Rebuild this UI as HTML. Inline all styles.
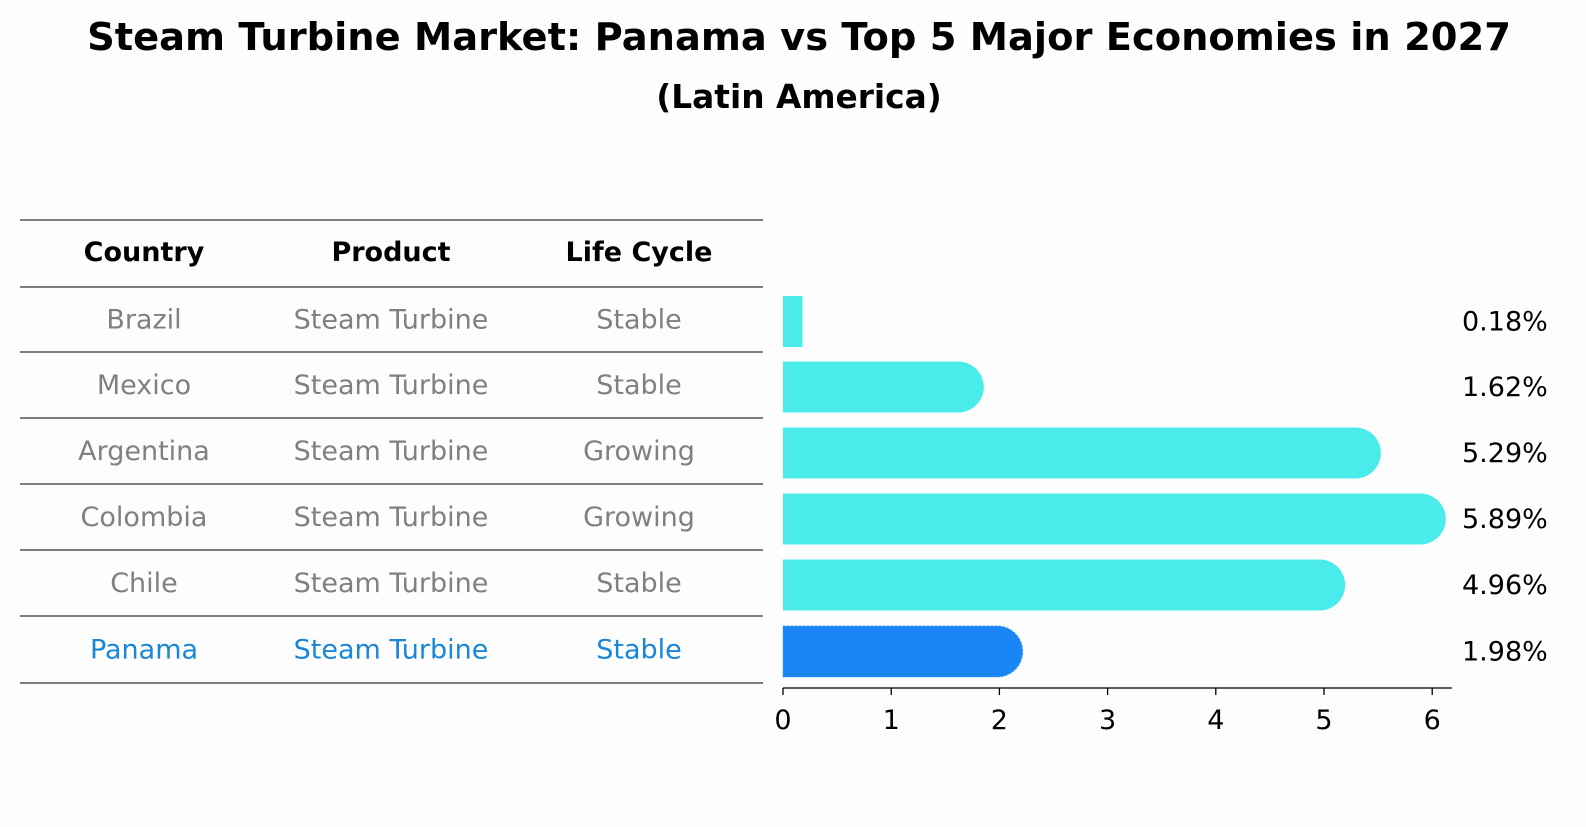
<!DOCTYPE html>
<html><head><meta charset="utf-8"><style>
body{margin:0;background:#fdfdfd;font-family:"DejaVu Sans","Liberation Sans",sans-serif;}
svg text{font-family:"DejaVu Sans","Liberation Sans",sans-serif;}
</style></head><body>
<svg width="1586" height="823" xmlns="http://www.w3.org/2000/svg">
<rect width="1586" height="823" fill="#fdfdfd"/>
<text x="799" y="50" text-anchor="middle" font-size="38.4" font-weight="bold">Steam Turbine Market: Panama vs Top 5 Major Economies in 2027</text>
<text x="799" y="108" text-anchor="middle" font-size="32.8" font-weight="bold">(Latin America)</text>
<g id="table"></g>
<g id="bars"></g>
</svg>
<script>
const countries=["Brazil","Mexico","Argentina","Colombia","Chile","Panama"];
const products=["Steam Turbine","Steam Turbine","Steam Turbine","Steam Turbine","Steam Turbine","Steam Turbine"];
const lifeCycles=["Stable","Stable","Growing","Growing","Stable","Stable"];
const values=[0.18,1.62,5.29,5.89,4.96,1.98];
const tickLabels=[0,1,2,3,4,5,6];
const NS="http://www.w3.org/2000/svg";
function mk(tag,attrs,parent,text){const e=document.createElementNS(NS,tag);for(const k in attrs)e.setAttribute(k,attrs[k]);if(text!==undefined)e.textContent=text;parent.appendChild(e);return e;}
const tbl=document.getElementById('table');
const lineYs=[220,287,352,418,484,550,616,683];
lineYs.forEach((y,i)=>{const l=mk('line',{x1:20,x2:763,y1:y,y2:y,stroke:'#000','stroke-width':1},tbl);

});
const colX=[144,391,639];
["Country","Product","Life Cycle"].forEach((h,i)=>{const t=mk('text',{x:colX[i],y:261,'text-anchor':'middle','font-size':27,'font-weight':'bold'},tbl,h);

});
function rowY(i){return (lineYs[i+1]+lineYs[i+2])/2;}
countries.forEach((c,i)=>{const col=c==="Panama"?"#1a86d8":"#808080";
[c,products[i],lifeCycles[i]].forEach((v,j)=>{const t=mk('text',{x:colX[j],y:rowY(i)+9,'text-anchor':'middle','font-size':27,fill:col},tbl,v);

});});
const bars=document.getElementById('bars');
const x0=783,pxPer=108.2;
function xs(v){return x0+v*pxPer;}
const barH=51;
countries.forEach((c,i)=>{const cy=rowY(i)+2;const y=cy-barH/2;const w=xs(values[i])-x0;
const isP=c==="Panama";const fill=isP?"#1a86f5":"#4aeceb";
let d;
if(w>barH){const r=barH/2;d=`M${x0},${y} H${x0+w} A${r},${r} 0 0 1 ${x0+w},${y+barH} H${x0} Z`;}
else d=`M${x0},${y} H${x0+w} V${y+barH} H${x0} Z`;
const p=mk('path',{d:d,fill:fill},bars);
if(isP){p.setAttribute('stroke','#3a9af8');p.setAttribute('stroke-dasharray','2,2');}


const t=mk('text',{x:1462,y:cy+9,'font-size':27},bars,values[i].toFixed(2)+'%');

});
const ax=mk('line',{x1:783,x2:1452,y1:688,y2:688,stroke:'#000','stroke-width':1.3},bars);


tickLabels.forEach(v=>{const tk=mk('line',{x1:xs(v),x2:xs(v),y1:688,y2:695,stroke:'#000','stroke-width':1.3},bars);


const t=mk('text',{x:xs(v),y:729,'text-anchor':'middle','font-size':27},bars,String(v));

});
</script>
</body></html>
